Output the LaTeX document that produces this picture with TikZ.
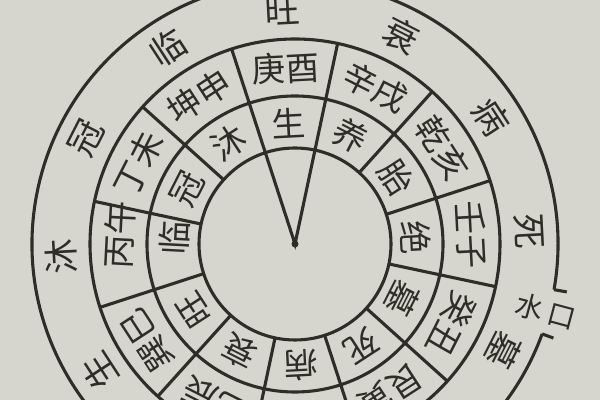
\documentclass[tikz,border=0pt]{standalone}
\usepackage{fontspec}
\newfontfamily\cjk{Noto Sans CJK SC}
\definecolor{paper}{RGB}{214,214,206}
\definecolor{ink}{RGB}{46,46,40}

\begin{document}
\begin{tikzpicture}[x=0.025cm,y=0.025cm]
\fill[paper] (0,0) rectangle (600,400);
\useasboundingbox (0,0) rectangle (600,400);
\clip (0,0) rectangle (600,400);

\begin{scope}[shift={(295,156)}, draw=ink, line width=2.2pt]
    % rings
    \draw (0,0) circle (96);
    \draw (0,0) circle (148);
    \draw (0,0) circle (205);
    \draw (-10:263) arc[start angle=-10, end angle=340, radius=263];
    \draw (-10:263) -- (-10:276);
    \draw (-20:263) -- (-20:275);

    % sectors
    \foreach \a in {18,48,...,348}
        \draw (\a:96) -- (\a:205);
    \draw (78:96) -- (0,0) -- (108:96);
    \fill[ink] (0,0) circle (3.5);
\end{scope}

\begin{scope}[shift={(295,156)},
    every node/.style={text=ink,inner sep=0pt,font=\cjk\fontsize{24}{24}\selectfont}]
    % inner ring
    \node (i1) at (93:121) [rotate=3] {生};
    \node (i2) at (63:121) [rotate=-27] {养};
    \node (i3) at (33:121) [rotate=-57] {胎};
    \node (i4) at (3:121) [rotate=-87] {绝};
    \node (i5) at (-27:121) [rotate=-117] {墓};
    \node (i6) at (-57:121) [rotate=-147] {死};
    \node (i7) at (-87:121) [rotate=-177] {病};
    \node (i8) at (-117:121) [rotate=153] {衰};
    \node (i9) at (-147:121) [rotate=123] {旺};
    \node (i10) at (177:121) [rotate=87] {临};
    \node (i11) at (153:121) [rotate=63] {冠};
    \node (i12) at (123:121) [rotate=33] {沐};

    % outer ring
    \node (o1) at (93:176) [rotate=3] {庚酉};
    \node (o2) at (63:176) [rotate=-27] {辛戌};
    \node (o3) at (33:176) [rotate=-57] {乾亥};
    \node (o4) at (3:176) [rotate=-87] {壬子};
    \node (o5) at (-27:176) [rotate=-117] {癸丑};
    \node (o6) at (-57:176) [rotate=-147] {艮寅};
    \node (o8) at (-117:176) [rotate=153] {乙辰};
    \node (o9) at (-147:176) [rotate=123] {巽巳};
    \node (o10) at (177:176) [rotate=87] {丙午};
    \node (o11) at (153:176) [rotate=63] {丁未};
    \node (o12) at (123:176) [rotate=33] {坤申};
\end{scope}

\begin{scope}[shift={(295,156)},
    every node/.style={text=ink,inner sep=0pt,font=\cjk\fontsize{25}{25}\selectfont}]
    % outside the rings
    \node (r1) at (213:234) [rotate=123] {生};
    \node (r2) at (183:234) [rotate=93] {沐};
    \node (r3) at (153:234) [rotate=63] {冠};
    \node (r4) at (123:234) [rotate=33] {临};
    \node (r5) at (93:234) [rotate=3] {旺};
    \node (r6) at (63:234) [rotate=-27] {衰};
    \node (r7) at (33:234) [rotate=-57] {病};
    \node (r8) at (3:234) [rotate=-87] {死};
    \node (r9) at (-27:234) [rotate=-117] {墓};
    \node (sk) at (-15:260) [rotate=-15,font=\cjk\fontsize{20}{20}\selectfont] {水\,口};
\end{scope}
\end{tikzpicture}
\end{document}
